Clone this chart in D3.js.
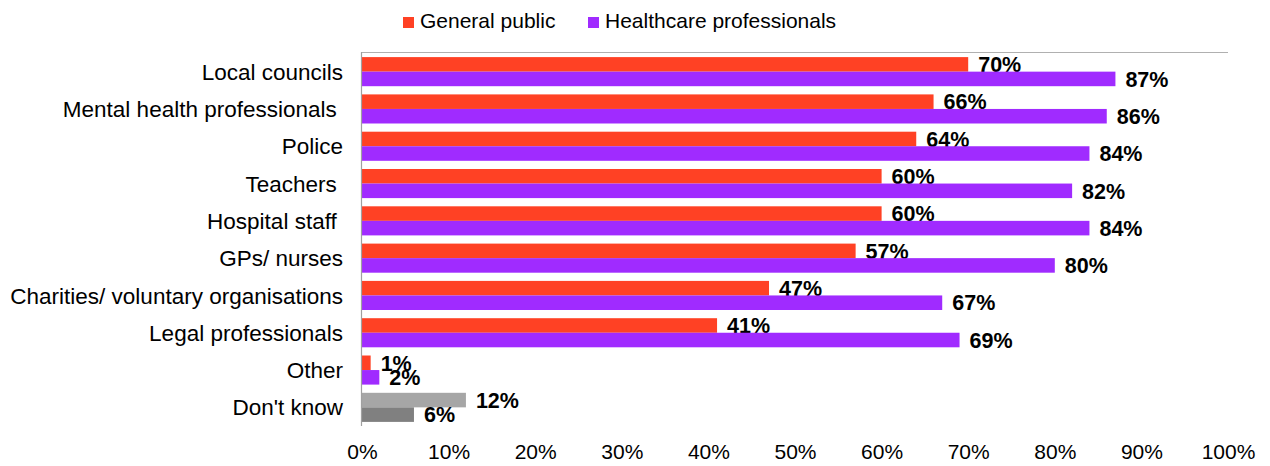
<!DOCTYPE html>
<html>
<head>
<meta charset="utf-8">
<script src="https://cdn.jsdelivr.net/npm/d3@7/dist/d3.min.js"></script>
<style>
  html, body { margin: 0; padding: 0; background: #fff; }
  svg { display: block; font-family: "Liberation Sans", Arial, sans-serif; }
</style>
</head>
<body>
<svg id="chart" width="1270" height="466"></svg>
<script>
// Who should be responsible — share of respondents, by group
const categories = [
  "Local councils",
  "Mental health professionals ",
  "Police",
  "Teachers ",
  "Hospital staff ",
  "GPs/ nurses",
  "Charities/ voluntary organisations",
  "Legal professionals",
  "Other",
  "Don't know"
];
const generalPublic = [70, 66, 64, 60, 60, 57, 47, 41, 1, 12];
const healthcarePros = [87, 86, 84, 82, 84, 80, 67, 69, 2, 6];
const seriesNames = ["General public", "Healthcare professionals"];
const xTicks = [0, 10, 20, 30, 40, 50, 60, 70, 80, 90, 100];

const colors = ["#FF4124", "#A02BFF"];
const dontKnowColors = ["#A6A6A6", "#808080"];

const svg = d3.select("#chart");
const margin = { left: 362, right: 42, top: 53, bottom: 40 };
const W = 1270, H = 466;
const plotBottom = 426;

const x = d3.scaleLinear().domain([0, 100]).range([margin.left, W - margin.right]);
const y = d3.scaleBand().domain(categories).range([margin.top, plotBottom]).paddingInner(0.22).paddingOuter(0.11);
const sub = d3.scaleBand().domain([0, 1]).range([0, y.bandwidth()]);

// plot frame: top and left edges only
svg.append("line")
  .attr("x1", x(0)).attr("x2", x(100))
  .attr("y1", margin.top - 0.5).attr("y2", margin.top - 0.5)
  .attr("stroke", "#B0B0B0").attr("stroke-width", 1.2);

const rows = categories.map((c, i) => ({
  cat: c,
  vals: [generalPublic[i], healthcarePros[i]],
  isDK: c === "Don't know"
}));

const g = svg.append("g");
rows.forEach(r => {
  r.vals.forEach((v, k) => {
    const fill = r.isDK ? dontKnowColors[k] : colors[k];
    const y0 = y(r.cat) + sub(k);
    g.append("rect")
      .attr("x", x(0))
      .attr("y", y0)
      .attr("width", x(v) - x(0))
      .attr("height", sub.bandwidth())
      .attr("fill", fill);
    g.append("text")
      .attr("x", x(v) + 10)
      .attr("y", y0 + sub.bandwidth() / 2)
      .attr("dy", "0.36em")
      .attr("font-size", 21.5)
      .attr("font-weight", "bold")
      .attr("fill", "#000")
      .text(v + "%");
  });
});

// y axis line
svg.append("line")
  .attr("x1", x(0) - 0.5).attr("x2", x(0) - 0.5)
  .attr("y1", margin.top - 1).attr("y2", plotBottom)
  .attr("stroke", "#A0A0A0").attr("stroke-width", 1.2);

// category labels
const yAxis = d3.axisLeft(y).tickSize(0).tickPadding(19);
const ya = svg.append("g").attr("transform", `translate(${x(0)},0)`).call(yAxis);
ya.select(".domain").remove();
ya.selectAll("text")
  .attr("font-size", 22.5)
  .attr("font-family", "'Liberation Sans', Arial, sans-serif")
  .attr("fill", "#000")
  .attr("dy", "0.36em")
  .style("white-space", "pre");

// x tick labels
const xAxis = d3.axisBottom(x).tickValues(xTicks).tickSize(0).tickPadding(0).tickFormat(d => d + "%");
const xa = svg.append("g").attr("transform", `translate(0,459)`).call(xAxis);
xa.select(".domain").remove();
xa.selectAll("text")
  .attr("font-size", 21)
  .attr("font-family", "'Liberation Sans', Arial, sans-serif")
  .attr("fill", "#000")
  .attr("dy", 0);

// legend
const legendX = [403, 588];
seriesNames.forEach((n, k) => {
  svg.append("rect")
    .attr("x", legendX[k]).attr("y", 17)
    .attr("width", 11).attr("height", 11)
    .attr("fill", colors[k]);
  svg.append("text")
    .attr("x", legendX[k] + 17).attr("y", 28)
    .attr("font-size", 21)
    .attr("fill", "#000")
    .text(n);
});
</script>
</body>
</html>
